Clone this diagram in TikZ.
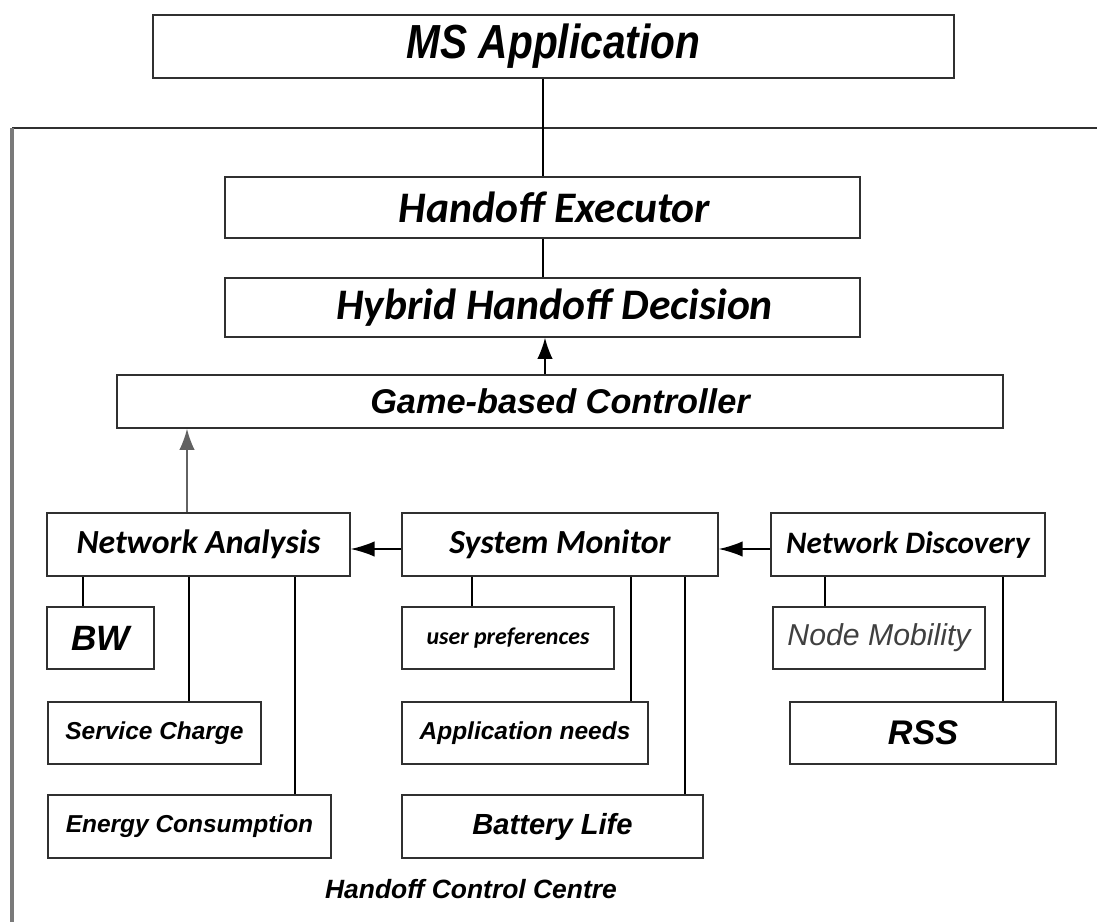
\documentclass[tikz,border=0pt]{standalone}
\usepackage{fontspec}
\setmainfont{Liberation Sans}
\newfontfamily\arialfont{Liberation Sans}
\newfontfamily\narrowfont{Liberation Sans}[FakeStretch=0.85]
\newfontfamily\califont{Carlito}
\usetikzlibrary{arrows.meta}
\definecolor{edge}{HTML}{303030}
\definecolor{framegrey}{HTML}{7A7A7A}
\definecolor{softtext}{HTML}{404040}
\tikzset{
  box/.style={draw=edge, line width=1.1pt, fill=white, inner sep=0pt, align=center},
  link/.style={draw=black, line width=1.1pt},
  uparrow/.style={link, -{Latex[length=15pt,width=11pt]}},
  sidearrow/.style={link, -{Latex[length=17pt,width=11pt]}},
}
\newcommand{\abi}[1]{\fontsize{#1}{#1}\arialfont\bfseries\itshape}
\newcommand{\cbi}[1]{\fontsize{#1}{#1}\califont\bfseries\itshape}
\begin{document}
\begin{tikzpicture}[x=0.025cm, y=-0.025cm]
\useasboundingbox (0,0) rectangle (1097,922);

% outer frame of the control centre
\draw[edge, line width=1.2pt] (12,128) -- (1097,128);
\draw[framegrey, line width=2.2pt] (12,128) -- (12,922);

% upper chain
\node[box, minimum width=801*0.025cm, minimum height=63*0.025cm] (ms) at (553.5,46.5)
  {\fontsize{34}{34}\narrowfont\bfseries\itshape MS Application};
\node[box, minimum width=635*0.025cm, minimum height=61*0.025cm] (he) at (542.5,207.5)
  {\hspace*{0.6cm}\cbi{31}Handoff Executor};
\node[box, minimum width=635*0.025cm, minimum height=59*0.025cm] (hhd) at (542.5,307.5)
  {\hspace*{0.6cm}\cbi{31}Hybrid Handoff Decision};
\node[box, minimum width=886*0.025cm, minimum height=53*0.025cm] (gbc) at (560,401.5)
  {\abi{24.4}Game-based Controller};

% three monitoring modules
\node[box, minimum width=303*0.025cm, minimum height=63*0.025cm] (na) at (198.5,544.5)
  {\cbi{24}Network Analysis};
\node[box, minimum width=316*0.025cm, minimum height=63*0.025cm] (sm) at (560,544.5)
  {\cbi{24}System Monitor};
\node[box, minimum width=274*0.025cm, minimum height=63*0.025cm] (nd) at (908,544.5)
  {\cbi{22.2}Network Discovery};

% parameters
\node[box, minimum width=107*0.025cm, minimum height=62*0.025cm] (bw) at (100.5,638)
  {\abi{25}BW};
\node[box, minimum width=213*0.025cm, minimum height=62*0.025cm] (sc) at (154.5,733)
  {\abi{17.4}Service Charge};
\node[box, minimum width=283*0.025cm, minimum height=63*0.025cm] (ec) at (189.5,826.5)
  {\abi{17.4}Energy Consumption};
\node[box, minimum width=212*0.025cm, minimum height=62*0.025cm] (up) at (508,638)
  {\cbi{17}user preferences};
\node[box, minimum width=246*0.025cm, minimum height=62*0.025cm] (an) at (525,733)
  {\abi{17.4}Application needs};
\node[box, minimum width=301*0.025cm, minimum height=63*0.025cm] (bl) at (552.5,826.5)
  {\abi{20.7}Battery Life};
\node[box, minimum width=212*0.025cm, minimum height=62*0.025cm] (nm) at (879,638)
  {\fontsize{21.5}{21.5}\arialfont\itshape\color{softtext}Node Mobility};
\node[box, minimum width=266*0.025cm, minimum height=62*0.025cm] (rss) at (923,733)
  {\abi{24.3}RSS};

\node (hcc) at (471,889) {\abi{18.8}Handoff Control Centre};

% connectors
\draw[link] (ms.south -| 543,0) -- (he.north -| 543,0);
\draw[link] (he.south -| 543,0) -- (hhd.north -| 543,0);
\draw[uparrow] (gbc.north -| 545,0) -- (hhd.south -| 545,0);
\draw[uparrow, draw=framegrey!80!black] (na.north -| 187,0) -- (gbc.south -| 187,0);
\draw[sidearrow] (sm.west |- 0,549) -- (na.east |- 0,549);
\draw[sidearrow] (nd.west |- 0,549) -- (sm.east |- 0,549);

\draw[link] (na.south -| 83,0) -- (bw.north -| 83,0);
\draw[link] (na.south -| 189,0) -- (sc.north -| 189,0);
\draw[link] (na.south -| 295,0) -- (ec.north -| 295,0);
\draw[link] (sm.south -| 472,0) -- (up.north -| 472,0);
\draw[link] (sm.south -| 631,0) -- (an.north -| 631,0);
\draw[link] (sm.south -| 685,0) -- (bl.north -| 685,0);
\draw[link] (nd.south -| 825,0) -- (nm.north -| 825,0);
\draw[link] (nd.south -| 1003,0) -- (rss.north -| 1003,0);
\end{tikzpicture}
\end{document}
